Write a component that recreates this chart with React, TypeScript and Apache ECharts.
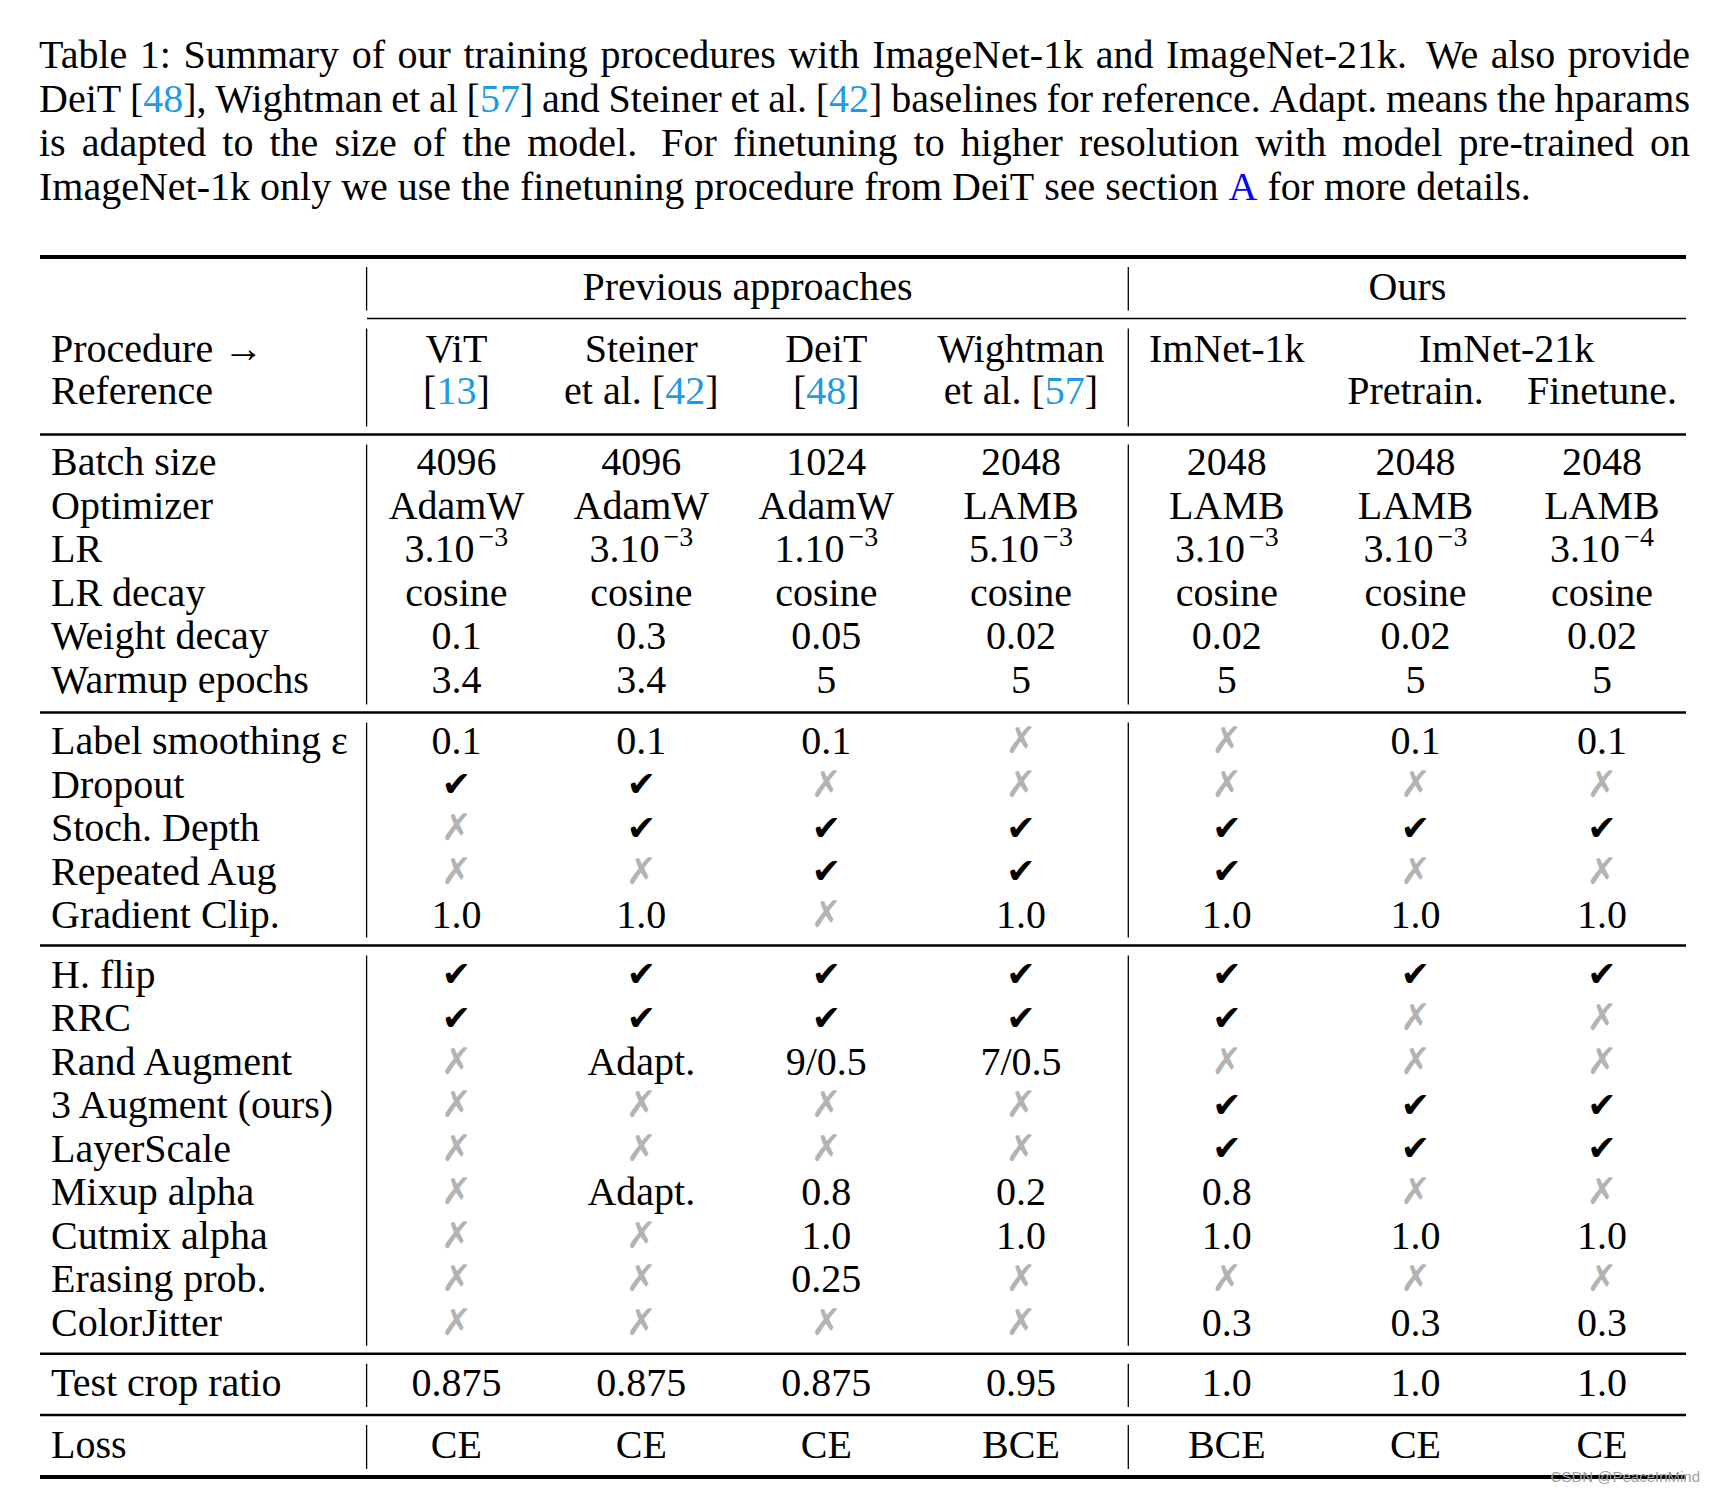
import React, { useEffect, useRef } from "react";
import * as echarts from "echarts";

const W = 1716;
const H = 1492;
const SERIF = '"Liberation Serif", "Times New Roman", serif';
const SYMF = '"DejaVu Sans", sans-serif';
const FS = 40;
const CAP_FS = 40;
const SUP_FS = 28;
const CITE = "#1e9ae6";
const LINK = "#0000ff";
const BLACK = "#000000";
const GREY = "#b3b3b3";
const CHECK = "✓";
const CROSS = "✗";

// caption: <..> citation colour, {..} link colour
const captionLines = [
  "Table 1: Summary of our training procedures with ImageNet-1k and ImageNet-21k.  We also provide",
  "DeiT [<48>], Wightman et al [<57>] and Steiner et al. [<42>] baselines for reference. Adapt. means the hparams",
  "is adapted to the size of the model.  For finetuning to higher resolution with model pre-trained on",
  "ImageNet-1k only we use the finetuning procedure from DeiT see section {A} for more details.",
];

const groupHeaders = ["Previous approaches", "Ours"];
const headerRow1 = ["ViT", "Steiner", "DeiT", "Wightman", "ImNet-1k", "ImNet-21k"];
const headerRow2 = ["[<13>]", "et al. [<42>]", "[<48>]", "et al. [<57>]", "", "Pretrain.", "Finetune."];
const stubHeader = ["Procedure →", "Reference"];

// section 1
const batchSize = ["4096", "4096", "1024", "2048", "2048", "2048", "2048"];
const optimizer = ["AdamW", "AdamW", "AdamW", "LAMB", "LAMB", "LAMB", "LAMB"];
const lrMantissa = ["3.10", "3.10", "1.10", "5.10", "3.10", "3.10", "3.10"];
const lrExponent = ["−3", "−3", "−3", "−3", "−3", "−3", "−4"];
const lrDecay = ["cosine", "cosine", "cosine", "cosine", "cosine", "cosine", "cosine"];
const weightDecay = ["0.1", "0.3", "0.05", "0.02", "0.02", "0.02", "0.02"];
const warmupEpochs = ["3.4", "3.4", "5", "5", "5", "5", "5"];
// section 2
const labelSmoothing = ["0.1", "0.1", "0.1", CROSS, CROSS, "0.1", "0.1"];
const dropout = [CHECK, CHECK, CROSS, CROSS, CROSS, CROSS, CROSS];
const stochDepth = [CROSS, CHECK, CHECK, CHECK, CHECK, CHECK, CHECK];
const repeatedAug = [CROSS, CROSS, CHECK, CHECK, CHECK, CROSS, CROSS];
const gradientClip = ["1.0", "1.0", CROSS, "1.0", "1.0", "1.0", "1.0"];
// section 3
const hFlip = [CHECK, CHECK, CHECK, CHECK, CHECK, CHECK, CHECK];
const rrc = [CHECK, CHECK, CHECK, CHECK, CHECK, CROSS, CROSS];
const randAugment = [CROSS, "Adapt.", "9/0.5", "7/0.5", CROSS, CROSS, CROSS];
const threeAugment = [CROSS, CROSS, CROSS, CROSS, CHECK, CHECK, CHECK];
const layerScale = [CROSS, CROSS, CROSS, CROSS, CHECK, CHECK, CHECK];
const mixupAlpha = [CROSS, "Adapt.", "0.8", "0.2", "0.8", CROSS, CROSS];
const cutmixAlpha = [CROSS, CROSS, "1.0", "1.0", "1.0", "1.0", "1.0"];
const erasingProb = [CROSS, CROSS, "0.25", CROSS, CROSS, CROSS, CROSS];
const colorJitter = [CROSS, CROSS, CROSS, CROSS, "0.3", "0.3", "0.3"];
// section 4/5
const testCropRatio = ["0.875", "0.875", "0.875", "0.95", "1.0", "1.0", "1.0"];
const loss = ["CE", "CE", "CE", "BCE", "BCE", "CE", "CE"];

const sections: [string, string[]][][] = [
  [
    ["Batch size", batchSize],
    ["Optimizer", optimizer],
    ["LR", lrMantissa],
    ["LR decay", lrDecay],
    ["Weight decay", weightDecay],
    ["Warmup epochs", warmupEpochs],
  ],
  [
    ["Label smoothing ε", labelSmoothing],
    ["Dropout", dropout],
    ["Stoch. Depth", stochDepth],
    ["Repeated Aug", repeatedAug],
    ["Gradient Clip.", gradientClip],
  ],
  [
    ["H. flip", hFlip],
    ["RRC", rrc],
    ["Rand Augment", randAugment],
    ["3 Augment (ours)", threeAugment],
    ["LayerScale", layerScale],
    ["Mixup alpha", mixupAlpha],
    ["Cutmix alpha", cutmixAlpha],
    ["Erasing prob.", erasingProb],
    ["ColorJitter", colorJitter],
  ],
  [["Test crop ratio", testCropRatio]],
  [["Loss", loss]],
];

// layout
const CAP_X0 = 39;
const CAP_X1 = 1690;
const CAP_Y = [54.7, 98.5, 142.3, 186];
const RULE_X0 = 40;
const RULE_X1 = 1686;
const RULES = [
  { y: 257, w: 4, x0: RULE_X0 },
  { y: 318.5, w: 1.5, x0: 367 },
  { y: 434.5, w: 2.5, x0: RULE_X0 },
  { y: 712.5, w: 2.5, x0: RULE_X0 },
  { y: 945.5, w: 2.5, x0: RULE_X0 },
  { y: 1353.8, w: 2.5, x0: RULE_X0 },
  { y: 1415, w: 2.5, x0: RULE_X0 },
  { y: 1477, w: 4, x0: RULE_X0 },
];
const VLINES = [366.6, 1128.3];
const LABEL_X = 51;
const COL_X = [456.4, 641.3, 826.3, 1021, 1226.8, 1415.5, 1602];
const GROUP_X = [747.5, 1407.4];
const IMNET21_X = 1506.5;
const HEAD_Y = [286.7, 348, 390.7];
const SECTION_Y0 = [461.8, 740.9, 974, 1382.2, 1444.6];
const PITCH = 43.5;

type Seg = { t: string; c: string };

let ctx: CanvasRenderingContext2D | null = null;
function tw(text: string, size: number, family: string, weight = "normal") {
  if (!ctx) ctx = document.createElement("canvas").getContext("2d");
  ctx!.font = `${weight} ${size}px ${family}`;
  return ctx!.measureText(text).width;
}

function parse(s: string): Seg[] {
  const out: Seg[] = [];
  let cur = "";
  let color = BLACK;
  for (const ch of s) {
    if (ch === "<" || ch === "{") {
      if (cur) out.push({ t: cur, c: color });
      cur = "";
      color = ch === "<" ? CITE : LINK;
    } else if (ch === ">" || ch === "}") {
      if (cur) out.push({ t: cur, c: color });
      cur = "";
      color = BLACK;
    } else cur += ch;
  }
  if (cur) out.push({ t: cur, c: color });
  return out;
}

function txt(text: string, x: number, y: number, opts: any = {}) {
  const align = opts.align || "left";
  return {
    type: "text",
    x,
    y,
    silent: true,
    style: {
      text,
      fill: opts.fill || BLACK,
      fontSize: opts.size || FS,
      fontFamily: opts.family || SERIF,
      fontWeight: opts.weight || "normal",
      align,
      verticalAlign: "middle",
      textAlign: align,
      textVerticalAlign: "middle",
    },
  };
}

function segsWidth(segs: Seg[], size = FS) {
  return segs.reduce((a, s) => a + tw(s.t, size, SERIF), 0);
}

function drawSegs(els: any[], segs: Seg[], x: number, y: number, size = FS) {
  let cx = x;
  for (const s of segs) {
    els.push(txt(s.t, cx, y, { fill: s.c, size }));
    cx += tw(s.t, size, SERIF);
  }
}

function centeredMarkup(els: any[], s: string, cx: number, y: number) {
  const segs = parse(s);
  const w = segsWidth(segs);
  drawSegs(els, segs, cx - w / 2, y);
}

// mantissa with raised exponent, as one rich text
function powerText(m: string, e: string, cx: number, y: number) {
  return {
    type: "text",
    x: cx,
    y,
    silent: true,
    style: {
      text: `{b|${m}}{s|${e}}`,
      align: "center",
      verticalAlign: "middle",
      textAlign: "center",
      textVerticalAlign: "middle",
      fill: BLACK,
      fontSize: FS,
      fontFamily: SERIF,
      rich: {
        b: { fontSize: FS, fontFamily: SERIF, fill: BLACK, color: BLACK, lineHeight: FS },
        s: {
          fontSize: SUP_FS,
          fontFamily: SERIF,
          fill: BLACK,
          color: BLACK,
          lineHeight: SUP_FS,
          padding: [0, 0, 24, 4],
        },
      },
    },
  };
}

function buildElements() {
  const els: any[] = [];
  els.push({ type: "rect", shape: { x: 0, y: 0, width: W, height: H }, style: { fill: "#ffffff" }, silent: true });

  // caption
  captionLines.forEach((line, li) => {
    const raw = line.split(" ");
    const words: Seg[][] = [];
    const weights: number[] = [];
    let pending = 0;
    for (const r of raw) {
      if (r === "") {
        pending += 0.5;
        continue;
      }
      if (words.length) weights.push(1 + pending);
      pending = 0;
      words.push(parse(r));
    }
    const ww = words.map((w) => segsWidth(w, CAP_FS));
    const total = ww.reduce((a, b) => a + b, 0);
    const sumW = weights.reduce((a, b) => a + b, 0);
    const last = li === captionLines.length - 1;
    const unit = last ? tw(" ", CAP_FS, SERIF) : (CAP_X1 - CAP_X0 - total) / sumW;
    let x = CAP_X0;
    words.forEach((w, i) => {
      drawSegs(els, w, x, CAP_Y[li], CAP_FS);
      x += ww[i] + (i < weights.length ? weights[i] * unit : 0);
    });
  });

  // rules
  RULES.forEach((r) => {
    els.push({
      type: "line",
      silent: true,
      shape: { x1: r.x0, y1: r.y, x2: RULE_X1, y2: r.y },
      style: { stroke: BLACK, lineWidth: r.w },
    });
  });
  // vertical lines between rules
  for (let i = 0; i < RULES.length - 1; i++) {
    const y1 = RULES[i].y + 10;
    const y2 = RULES[i + 1].y - 8;
    VLINES.forEach((vx) => {
      els.push({
        type: "line",
        silent: true,
        shape: { x1: vx, y1, x2: vx, y2 },
        style: { stroke: BLACK, lineWidth: 1.3 },
      });
    });
  }

  // header
  groupHeaders.forEach((g, i) => els.push(txt(g, GROUP_X[i], HEAD_Y[0], { align: "center" })));
  els.push(txt(stubHeader[0], LABEL_X, HEAD_Y[1]));
  els.push(txt(stubHeader[1], LABEL_X, HEAD_Y[2]));
  headerRow1.forEach((h, i) => {
    const cx = i === 5 ? IMNET21_X : COL_X[i];
    els.push(txt(h, cx, HEAD_Y[1], { align: "center" }));
  });
  headerRow2.forEach((h, i) => {
    if (h) centeredMarkup(els, h, COL_X[i], HEAD_Y[2]);
  });

  // body
  sections.forEach((sec, si) => {
    sec.forEach(([label, vals], ri) => {
      const y = SECTION_Y0[si] + ri * PITCH;
      els.push(txt(label, LABEL_X, y));
      vals.forEach((v, ci) => {
        const cx = COL_X[ci];
        if (v === CHECK) {
          els.push(txt("✔", cx, y, { align: "center", family: SYMF, size: 35 }));
        } else if (v === CROSS) {
          els.push(txt(CROSS, cx, y, { align: "center", family: SYMF, size: 37, weight: "bold", fill: GREY }));
        } else if (vals === lrMantissa) {
          els.push(powerText(v, lrExponent[ci], cx, y));
        } else {
          els.push(txt(v, cx, y, { align: "center" }));
        }
      });
    });
  });

  // watermark
  els.push(
    txt("CSDN @PeaceInMind", 1700, 1476, {
      align: "right",
      size: 15,
      family: '"Liberation Sans", Arial, sans-serif',
      fill: "#a0a0a0",
    })
  );
  return els;
}

export default function App() {
  const ref = useRef<HTMLDivElement>(null);
  useEffect(() => {
    if (!ref.current) return;
    const chart = echarts.init(ref.current, null, { renderer: "svg", width: W, height: H });
    chart.setOption({
      animation: false,
      backgroundColor: "#ffffff",
      graphic: { elements: buildElements() },
    });
    return () => chart.dispose();
  }, []);
  return (
    <div
      ref={ref}
      style={{ position: "absolute", left: 0, top: 0, width: W, height: H, background: "#ffffff" }}
    />
  );
}
